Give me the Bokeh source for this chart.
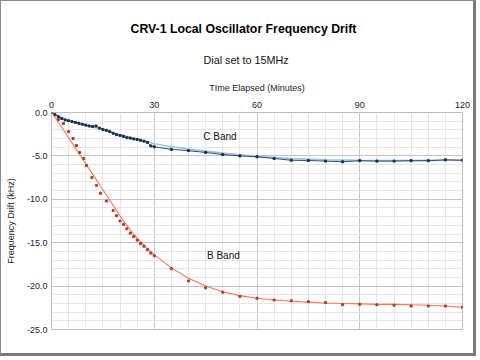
from bokeh.plotting import figure
from bokeh.models import Range1d, SingleIntervalTicker, PrintfTickFormatter, Title
from bokeh.core.properties import value
from bokeh.embed import file_html
from bokeh.resources import INLINE

# ---- data ----
c_band_t = [0, 1, 2, 3, 4, 5, 6, 7, 8, 9, 10, 11, 12, 13, 14, 15, 16, 17, 18, 19, 20,
            21, 22, 23, 24, 25, 26, 27, 28, 29, 30,
            35, 40, 45, 50, 55, 60, 65, 70, 75, 80, 85, 90, 95, 100, 105, 110, 115, 120]
c_band_v = [0.0, -0.25, -0.5, -0.7, -0.85, -0.95, -1.05, -1.15, -1.25, -1.35, -1.45,
            -1.55, -1.62, -1.55, -1.8, -1.95, -2.05, -2.2, -2.4, -2.55, -2.65,
            -2.75, -2.9, -2.95, -3.05, -3.1, -3.2, -3.3, -3.45, -3.85, -3.95,
            -4.25, -4.4, -4.6, -4.85, -5.0, -5.1, -5.3, -5.5, -5.53, -5.6, -5.68,
            -5.55, -5.6, -5.6, -5.55, -5.55, -5.45, -5.5]
c_trend_t = [0, 5, 10, 15, 20, 25, 30, 35, 40, 45, 50, 55, 60, 70, 80, 90, 100, 110, 120]
c_trend_v = [0.0, -0.95, -1.5, -1.95, -2.55, -3.05, -3.6, -3.95, -4.22, -4.45, -4.68,
             -4.88, -5.05, -5.3, -5.45, -5.52, -5.55, -5.52, -5.5]

b_band_t = [2, 3.5, 5, 6.3, 7.3, 8.2, 9.4, 10.2, 11.8, 13.1, 14.3, 16, 18, 19, 20, 21,
            22, 23, 24, 25, 26, 27, 28, 29, 30,
            35, 40, 45, 50, 55, 60, 65, 70, 75, 80, 85, 90, 95, 100, 105, 110, 115, 120]
b_band_v = [-0.8, -1.27, -2.2, -3.0, -3.8, -4.6, -5.3, -6.1, -7.5, -8.4, -9.3, -10.2,
            -11.3, -11.9, -12.5, -12.9, -13.4, -13.9, -14.3, -14.7, -15.1, -15.4,
            -15.8, -16.2, -16.5,
            -18.0, -19.4, -20.2, -20.7, -21.2, -21.4, -21.6, -21.7, -21.8, -21.9,
            -22.15, -22.1, -22.15, -22.2, -22.3, -22.3, -22.3, -22.45]
b_trend_t = [0, 2, 4, 6, 8, 10, 12, 14, 16, 18, 20, 22, 24, 26, 28, 30, 35, 40, 45, 50,
             55, 60, 65, 70, 75, 80, 85, 90, 95, 100, 105, 110, 115, 120]
b_trend_v = [0.0, -1.1, -2.3, -3.5, -4.7, -5.9, -7.1, -8.3, -9.5, -10.7, -11.9, -13.0,
             -14.0, -14.9, -15.7, -16.4, -17.9, -19.1, -20.0, -20.65, -21.1, -21.4,
             -21.6, -21.75, -21.85, -21.95, -22.0, -22.05, -22.1, -22.1, -22.15,
             -22.2, -22.3, -22.45]

x_ticks_interval = 30
y_ticks_interval = 5
title_text = "CRV-1  Local Oscillator Frequency Drift"
subtitle_text = "Dial set to 15MHz"
x_label = "TIme Elapsed (Minutes)"
y_label = "Frequency Drift (kHz)"

FONT = "Liberation Sans"

p = figure(width=476, height=356, output_backend="svg", toolbar_location=None,
           x_range=Range1d(0, 120), y_range=Range1d(-25, 0),
           x_axis_location="above", title=None,
           min_border_left=50, min_border_right=15, min_border_top=111,
           min_border_bottom=28)
p.styles = {"border-left": "1px solid #8c8c8c", "border-top": "1px solid #8c8c8c",
            "border-right": "3px solid #7a7a7a", "border-bottom": "3px solid #7a7a7a"}
p.background_fill_color = "white"
p.border_fill_color = "white"
p.outline_line_color = "#bdbdbd"

p.xaxis.ticker = SingleIntervalTicker(interval=x_ticks_interval, num_minor_ticks=6)
p.yaxis.ticker = SingleIntervalTicker(interval=y_ticks_interval, num_minor_ticks=5)
p.yaxis.formatter = PrintfTickFormatter(format="%.1f")
for ax in (p.xaxis[0], p.yaxis[0]):
    ax.axis_line_color = None
    ax.major_tick_line_color = None
    ax.minor_tick_line_color = None
    ax.major_tick_out = 0
    ax.major_tick_in = 0
    ax.minor_tick_out = 0
    ax.major_label_text_font = FONT
    ax.major_label_text_font_size = "9px"
    ax.major_label_text_color = "#222222"
    ax.axis_label_text_font = FONT
    ax.axis_label_text_font_size = "9px"
    ax.axis_label_text_font_style = "normal"
    ax.axis_label_text_color = "#222222"
p.xaxis.major_label_standoff = 5
p.yaxis.major_label_standoff = 4
p.xaxis.axis_label = x_label
p.yaxis.axis_label = y_label
p.xaxis.axis_label_standoff = 6
p.yaxis.axis_label_standoff = 8

p.xgrid.grid_line_color = "#c4c4c4"
p.ygrid.grid_line_color = "#c4c4c4"
p.xgrid.minor_grid_line_color = "#e6e6e6"
p.ygrid.minor_grid_line_color = "#e6e6e6"

# C band
p.line(c_trend_t, c_trend_v, line_color="#9cc2e5", line_width=1.6)
p.line(c_band_t, c_band_v, line_color="#2f4d72", line_width=1)
p.scatter(c_band_t, c_band_v, marker="square", size=2, color="#1b2f4d")
# B band
p.line(b_trend_t, b_trend_v, line_color="#ee7a55", line_width=1.1)
p.scatter(b_band_t, b_band_v, marker="square", size=2, color="#b8382a")

p.text(x=[44.3], y=[-2.75], text=["C Band"], text_font=value(FONT),
       text_font_size="10px", text_baseline="middle", text_color="#111111")
p.text(x=[45.4], y=[-16.5], text=["B Band"], text_font=value(FONT),
       text_font_size="10px", text_baseline="middle", text_color="#111111")

p.add_layout(Title(text=subtitle_text, text_font=FONT, text_font_size="10.8px",
                   text_font_style="normal", text_color="#111111",
                   align="left", offset=152, standoff=27), "above")
p.add_layout(Title(text=title_text, text_font=FONT, text_font_size="12.3px",
                   text_font_style="bold", text_color="#000000",
                   align="left", offset=79, standoff=6), "above")

open("out.html", "w").write(file_html(p, INLINE))
